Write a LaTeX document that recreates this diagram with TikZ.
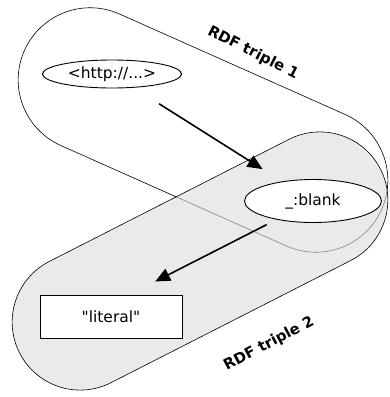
\documentclass[tikz,border=0pt]{standalone}
\usepackage{fontspec}
\setmainfont{DejaVu Sans}[Ligatures=TeXOff]
\usetikzlibrary{shapes.misc,shapes.geometric,arrows.meta}
\definecolor{greyfill}{HTML}{DCDCDC}
\begin{document}
\begin{tikzpicture}[x=1pt,y=-1pt,
  capsule/.style={rounded rectangle, inner sep=0pt, line width=0.6pt, draw=black},
  resnode/.style={ellipse, draw=black, fill=white, line width=0.9pt, inner sep=0pt,
    font=\fontsize{15.5}{18}\selectfont},
  litnode/.style={rectangle, draw=black, fill=white, line width=0.9pt, inner sep=0pt,
    font=\fontsize{15.5}{18}\selectfont},
  label/.style={font=\bfseries\fontsize{14.8}{17}\selectfont},
  arr/.style={-{Triangle[length=15pt,width=13pt]}, line width=1.6pt}]
\useasboundingbox (0,0) rectangle (389,397);
\node[capsule, fill=white, minimum width=391pt, minimum height=144pt, rotate=-24] (t1) at (203,130) {};
\node[capsule, fill=greyfill, fill opacity=0.6, minimum width=405pt, minimum height=136pt, rotate=27] (t2) at (200,261) {};
\node[resnode, minimum width=139pt, minimum height=28pt] (http) at (112,74) {<http://...>};
\node[resnode, minimum width=137pt, minimum height=43pt] (blank) at (313,201) {\_:blank};
\node[litnode, minimum width=142pt, minimum height=43pt] (lit) at (111,316.5) {"literal"};
\node[label, rotate=-27] (l1) at (253,53) {RDF triple 1};
\node[label, rotate=28] (l2) at (269,344) {RDF triple 2};
\draw[arr, shorten <=30pt, shorten >=23pt] (http) -- (blank);
\draw[arr, shorten <=11pt, shorten >=49.5pt] (blank) -- ([yshift=12.5pt]lit.center);
\end{tikzpicture}
\end{document}
